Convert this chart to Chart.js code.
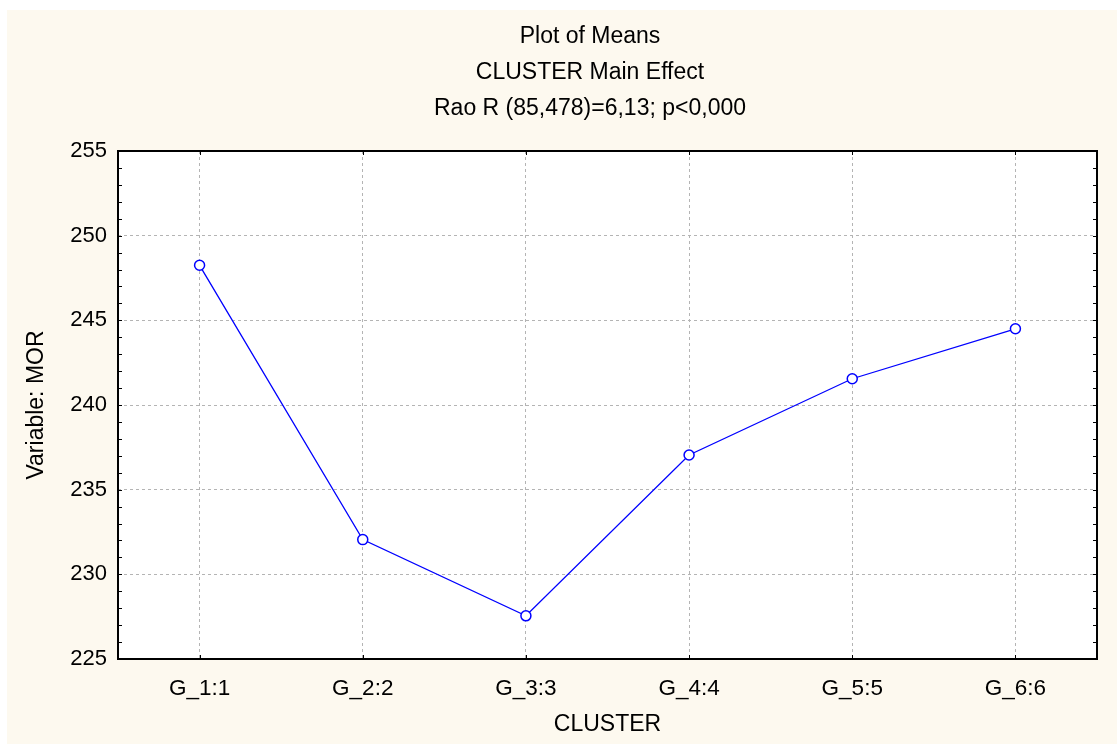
<!DOCTYPE html>
<html>
<head>
<meta charset="utf-8">
<script src="https://cdn.jsdelivr.net/npm/chart.js@4/dist/chart.umd.min.js"></script>
<style>
  html, body { margin: 0; padding: 0; background: #ffffff; }
  #wrap { width: 1117px; height: 744px; position: relative; }
</style>
</head>
<body>
<div id="wrap"><canvas id="c" width="1117" height="744"></canvas></div>
<script>
const categories = ["G_1:1", "G_2:2", "G_3:3", "G_4:4", "G_5:5", "G_6:6"];
const meanValues = [248.25, 232.05, 227.55, 237.05, 241.55, 244.5];
const titleLines = ["Plot of Means", "CLUSTER Main Effect", "Rao R (85,478)=6,13; p<0,000"];
const yTickValues = [225, 230, 235, 240, 245, 250, 255];
const xAxisTitle = "CLUSTER";
const yAxisTitle = "Variable: MOR";

const FONT = "'Liberation Sans', Arial, Helvetica, sans-serif";
const CREAM = "#fdf9ef";

const framePlugin = {
  id: 'frame',
  afterLayout(chart) {
    if (chart.titleBlock) {
      chart.titleBlock.left = 83;
    }
  },
  beforeDraw(chart) {
    const ctx = chart.ctx;
    const a = chart.chartArea;
    ctx.save();
    ctx.fillStyle = '#ffffff';
    ctx.fillRect(0, 0, chart.width, chart.height);
    ctx.fillStyle = CREAM;
    ctx.fillRect(7, 10, chart.width - 7, chart.height - 10);
    ctx.fillStyle = '#ffffff';
    ctx.fillRect(a.left, a.top, a.right - a.left, a.bottom - a.top);
    ctx.restore();
  },
  beforeDatasetsDraw(chart) {
    const ctx = chart.ctx;
    const a = chart.chartArea;
    const ys = chart.scales.y;
    const xs = chart.scales.x;
    ctx.save();
    ctx.strokeStyle = '#000000';
    ctx.lineWidth = 1;
    const L = 4;
    for (let v = ys.min; v <= ys.max; v += 1) {
      const py = Math.round(ys.getPixelForValue(v)) + 0.5;
      ctx.beginPath();
      ctx.moveTo(a.left, py); ctx.lineTo(a.left + L, py);
      ctx.moveTo(a.right, py); ctx.lineTo(a.right - L, py);
      ctx.stroke();
    }
    for (let i = 0; i < categories.length; i++) {
      const px = Math.round(xs.getPixelForValue(i)) + 0.5;
      ctx.beginPath();
      ctx.moveTo(px, a.bottom); ctx.lineTo(px, a.bottom - L);
      ctx.moveTo(px, a.top); ctx.lineTo(px, a.top + L);
      ctx.stroke();
    }
    ctx.lineWidth = 2;
    ctx.strokeRect(a.left, a.top, a.right - a.left, a.bottom - a.top);
    ctx.restore();
  }
};

new Chart(document.getElementById('c'), {
  type: 'line',
  data: {
    labels: categories,
    datasets: [{
      data: meanValues,
      borderColor: '#0000ff',
      borderWidth: 1.3,
      pointRadius: 5,
      pointHoverRadius: 5,
      pointBackgroundColor: '#ffffff',
      pointBorderColor: '#0000ff',
      pointBorderWidth: 1.5,
      tension: 0,
      fill: false,
      clip: false
    }]
  },
  options: {
    responsive: false,
    animation: false,
    devicePixelRatio: 1,
    events: [],
    layout: { padding: { left: 0, right: 20, top: 0, bottom: 0 } },
    plugins: {
      legend: { display: false },
      tooltip: { enabled: false },
      title: {
        display: true,
        text: titleLines,
        color: '#000000',
        font: { family: FONT, size: 23, weight: 'normal', lineHeight: 36 / 23 },
        padding: { top: 19, bottom: 24 }
      }
    },
    scales: {
      x: {
        type: 'category',
        offset: true,
        grid: {
          display: true,
          offset: false,
          color: '#b4b4b4',
          lineWidth: 1,
          drawTicks: false,
          tickLength: 0
        },
        border: { display: false, dash: [3, 3] },
        ticks: {
          color: '#000000',
          font: { family: FONT, size: 22.5 },
          padding: 16,
          maxRotation: 0,
          autoSkip: false
        },
        title: {
          display: true,
          text: xAxisTitle,
          color: '#000000',
          font: { family: FONT, size: 23 },
          padding: { top: 0, bottom: 6 }
        },
        afterFit(s) { s.height = 85; }
      },
      y: {
        type: 'linear',
        min: 225,
        max: 255,
        afterBuildTicks(s) { s.ticks = yTickValues.map(v => ({ value: v })); },
        grid: {
          display: true,
          color: (c) => (c.tick && (c.tick.value === 225 || c.tick.value === 255)) ? 'rgba(0,0,0,0)' : '#b4b4b4',
          lineWidth: 1,
          drawTicks: false,
          tickLength: 0
        },
        border: { display: false, dash: [3, 3] },
        ticks: {
          color: '#000000',
          font: { family: FONT, size: 22 },
          padding: 11
        },
        title: {
          display: true,
          text: yAxisTitle,
          color: '#000000',
          font: { family: FONT, size: 23 },
          padding: { top: 23, bottom: 0 }
        },
        afterFit(s) { s.width = 118; }
      }
    }
  },
  plugins: [framePlugin]
});
</script>
</body>
</html>
